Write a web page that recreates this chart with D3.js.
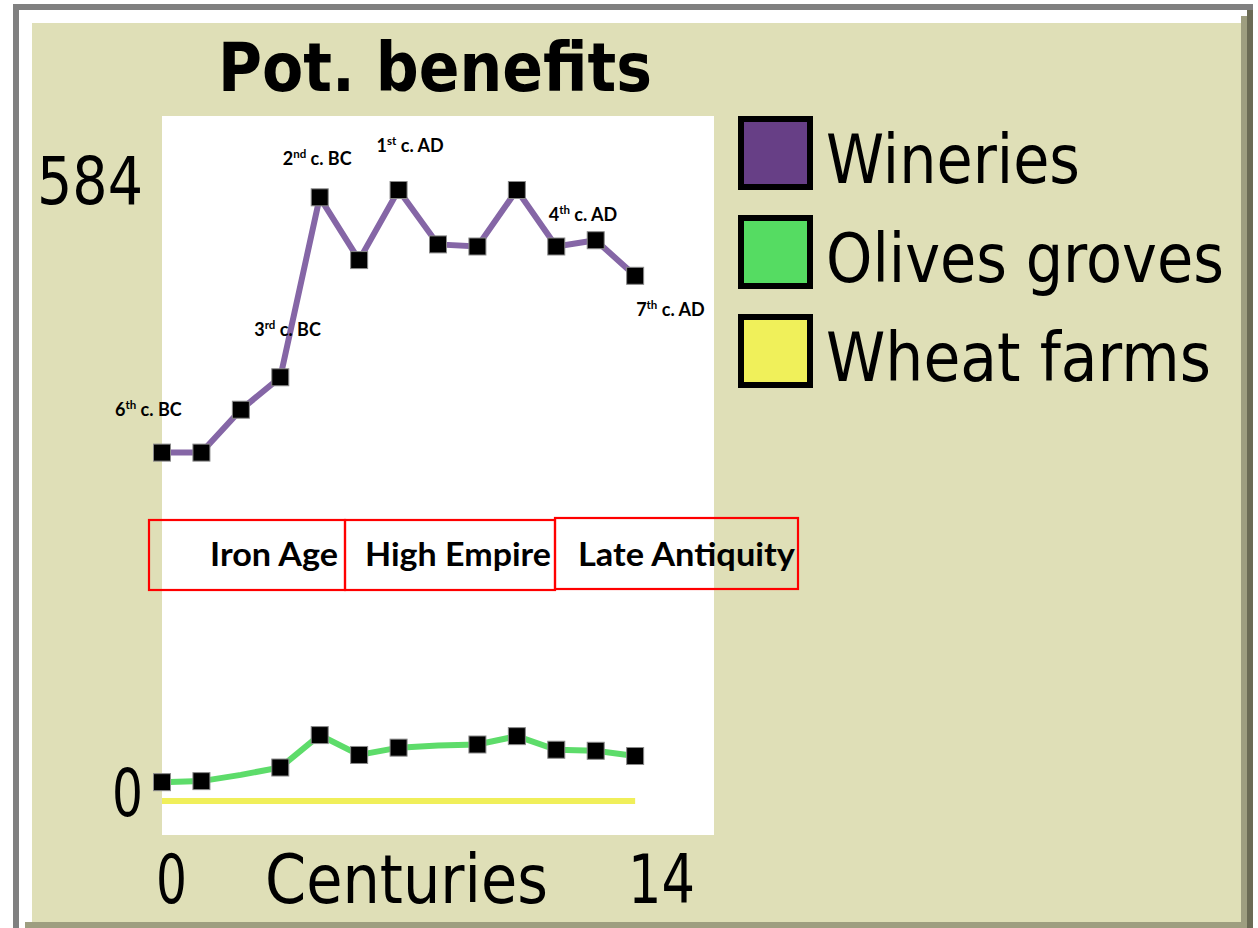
<!DOCTYPE html>
<html>
<head>
<meta charset="utf-8">
<script src="https://cdn.jsdelivr.net/npm/d3@7"></script>
<style>
  html, body { margin: 0; padding: 0; background: #ffffff; }
  svg { display: block; }
  .pix { font-family: "DejaVu Sans", sans-serif; fill: #000; }
  .note { font-family: Lato, "Open Sans", sans-serif; font-weight: 700; fill: #000; }
</style>
</head>
<body>
<svg id="chart" width="1258" height="928"></svg>
<script>
// Centuries from the 6th c. BC (0) to the 7th c. AD (12)
const centuries = [0, 1, 2, 3, 4, 5, 6, 7, 8, 9, 10, 11, 12];
const wineries  = [333, 333, 374, 405, 577, 517, 584, 532, 530, 584, 530, 536, 502];
const olives    = [18, 19, 25, 32, 63, 44, 51, 53, 54, 62, 49, 48, 43];
const wheat     = [0, 0, 0, 0, 0, 0, 0, 0, 0, 0, 0, 0, 0];

const seriesNames  = ["Wineries", "Olives groves", "Wheat farms"];
const seriesColors = ["#673f86", "#55dc62", "#f0f05a"];
const lineColors   = ["#8566a6", "#5ddc6a", "#f0ef5a"];

// Points marked with a square on each curve
const wineMarks  = [0, 1, 2, 3, 4, 5, 6, 7, 8, 9, 10, 11, 12];
const oliveMarks = [0, 1, 3, 4, 5, 6, 8, 9, 10, 11, 12];

// Century annotations on the wineries curve
const notes = [
  { idx: 0,  num: "6", sup: "th", rest: " c. BC", dx: -47, dy: -37 },
  { idx: 3,  num: "3", sup: "rd", rest: " c. BC", dx: -26, dy: -41 },
  { idx: 4,  num: "2", sup: "nd", rest: " c. BC", dx: -37, dy: -32 },
  { idx: 6,  num: "1", sup: "st", rest: " c. AD", dx: -22, dy: -38 },
  { idx: 11, num: "4", sup: "th", rest: " c. AD", dx: -47, dy: -19 },
  { idx: 12, num: "7", sup: "th", rest: " c. AD", dx: 1,   dy: 40 }
];

const periods = ["Iron Age", "High Empire", "Late Antiquity"];

const xTickLabels = ["0", "14"];
const yTickLabels = ["584", "0"];
const xTitle = "Centuries";
const title = "Pot. benefits";

const svg = d3.select("#chart");

// Draws a text whose left edge sits at x, squeezed horizontally to a given width
function fitText(parent, str, xLeft, yBase, width, size, weight, cls) {
  const g = parent.append("g");
  const t = g.append("text").attr("class", cls)
    .attr("x", 0).attr("y", 0)
    .attr("font-size", size)
    .attr("font-weight", weight || 400)
    .text(str);
  const natural = t.node().getComputedTextLength();
  const sx = natural > 0 ? width / natural : 1;
  g.attr("transform", `translate(${xLeft},${yBase}) scale(${sx},1)`);
  return t;
}

// ---- window frame ----
svg.append("rect").attr("x", 0).attr("y", 0).attr("width", 1258).attr("height", 928).attr("fill", "#ffffff");
svg.append("rect").attr("x", 13).attr("y", 4).attr("width", 1240).attr("height", 6).attr("fill", "#808080");
svg.append("rect").attr("x", 13).attr("y", 4).attr("width", 6).attr("height", 924).attr("fill", "#808080");
svg.append("rect").attr("x", 32).attr("y", 23).attr("width", 1209).attr("height", 899).attr("fill", "#dfdfb7");
svg.append("rect").attr("x", 1241).attr("y", 16).attr("width", 6).attr("height", 912).attr("fill", "#9e9e80");
svg.append("rect").attr("x", 1247).attr("y", 10).attr("width", 6).attr("height", 918).attr("fill", "#6b6b55");
svg.append("rect").attr("x", 25).attr("y", 922).attr("width", 1222).attr("height", 6).attr("fill", "#9e9e80");

// ---- plot area ----
svg.append("rect").attr("x", 162).attr("y", 116).attr("width", 552).attr("height", 719).attr("fill", "#ffffff");

const x = d3.scaleLinear().domain([0, 14]).range([162, 714]);
const y = d3.scaleLinear().domain([0, 584]).range([801, 190]);

// ---- title ----
fitText(svg, title, 218, 91, 434, 68, 700, "pix");

// ---- axis labels ----
fitText(svg, yTickLabels[0], 37, 204, 106, 66, 400, "pix");
fitText(svg, yTickLabels[1], 112, 816, 31, 66, 400, "pix");
fitText(svg, xTickLabels[0], 156, 903, 31, 68, 400, "pix");
fitText(svg, xTitle, 265, 903, 283, 68, 400, "pix");
fitText(svg, xTickLabels[1], 628, 903, 67, 68, 400, "pix");

// ---- curves ----
const line = d3.line().x((d, i) => x(centuries[i])).y(d => y(d));
[wineries, olives, wheat].forEach((vals, k) => {
  svg.append("path")
    .attr("d", line(vals))
    .attr("fill", "none")
    .attr("stroke", lineColors[k])
    .attr("stroke-width", 6)
    .attr("stroke-linejoin", "miter");
});

// ---- point markers ----
function marks(vals, idxs) {
  svg.append("g").selectAll("rect")
    .data(idxs)
    .join("rect")
    .attr("x", i => x(centuries[i]) - 8.5)
    .attr("y", i => y(vals[i]) - 8.5)
    .attr("width", 17).attr("height", 17)
    .attr("fill", "#000")
    .attr("stroke", "#8a8a8a").attr("stroke-width", 1);
}
marks(wineries, wineMarks);
marks(olives, oliveMarks);

// ---- century notes ----
const noteG = svg.append("g");
notes.forEach(n => {
  const t = noteG.append("text").attr("class", "note")
    .attr("x", x(centuries[n.idx]) + n.dx)
    .attr("y", y(wineries[n.idx]) + n.dy)
    .attr("font-size", 18);
  t.append("tspan").text(n.num);
  t.append("tspan").attr("font-size", 11.5).attr("dy", -7).text(n.sup);
  t.append("tspan").attr("dy", 7).text(n.rest);
});

// ---- period boxes ----
const boxes = [
  { x0: 149, x1: 345, y0: 520, y1: 590, tx: 338, len: 128 },
  { x0: 345, x1: 555, y0: 520, y1: 590, tx: 551, len: 186 },
  { x0: 555, x1: 798, y0: 518, y1: 589, tx: 795, len: 217 }
];
const pg = svg.append("g");
pg.selectAll("rect").data(boxes).join("rect")
  .attr("x", d => d.x0).attr("y", d => d.y0)
  .attr("width", d => d.x1 - d.x0).attr("height", d => d.y1 - d.y0)
  .attr("fill", "none").attr("stroke", "#ff0000").attr("stroke-width", 2.2);
boxes.forEach((b, i) => fitText(pg, periods[i], b.tx - b.len, 566, b.len, 33, 700, "note"));

// ---- legend ----
const legendWidths = [254, 398, 385];
const lg = svg.append("g");
seriesNames.forEach((name, i) => {
  const top = 116 + i * 99;
  lg.append("rect")
    .attr("x", 741).attr("y", top + 3)
    .attr("width", 69).attr("height", 68)
    .attr("fill", seriesColors[i])
    .attr("stroke", "#000").attr("stroke-width", 6);
  fitText(lg, name, 826, top + 67, legendWidths[i], 68, 400, "pix");
});
</script>
</body>
</html>
